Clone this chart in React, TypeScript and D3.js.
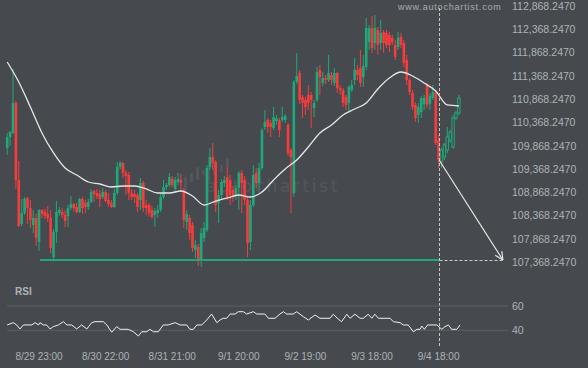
import React from "react";
import * as d3 from "d3";

const W = 588;
const H = 368;
const BG = "#464a4f";
const GREEN = "#1fa97a";
const RED = "#f83c3c";
const TEXT = "#aeb2b6";
const FONT = "'Liberation Sans', Arial, sans-serif";

// hourly candles (bar index 0..156)
const candleOpen = [109772,110008,110094,110738,109085,108141,108377,108699,108484,108120,108270,107755,108441,108398,108355,108270,107433,107969,108377,108398,108334,108313,108484,108570,108506,108398,108678,108592,108506,108613,108849,108806,108785,108720,108828,108656,108592,108506,108806,109364,109450,109235,109192,108806,108785,108763,108656,109021,108549,108549,108441,108334,108377,108441,108720,108935,108978,109107,108892,109042,109085,108871,108184,108270,108120,107583,107647,107368,107841,108012,109364,109579,109472,108592,108763,109021,109150,109085,108871,108763,108914,109235,109085,108656,107755,108549,109235,109021,109343,110223,110373,110308,110201,110351,110373,110373,110373,110266,109729,108806,111188,111381,110866,110802,110909,110909,110630,110802,111446,111167,111274,111231,111339,111167,111381,111059,111017,110866,110738,111017,111231,111446,111489,111295,111510,112047,112347,112025,112304,112025,112261,112240,112197,112133,111982,111939,112154,112025,111660,111231,110952,110695,110480,110544,110716,111124,110716,110845,110974,109944,109472,109579,109729,109944,109793,110416,110523];
const candleHigh = [110094,110137,111467,110781,109493,108678,108720,108720,108656,108441,108355,108463,108463,108463,108527,108441,108034,108635,108506,108484,108441,108549,108742,108592,108592,108699,108720,108656,108678,108892,108871,108892,108871,108914,108871,108806,108656,108892,109472,109493,109472,109300,109257,108892,108871,108806,109128,109064,108656,108592,108527,108484,108549,108806,109085,109021,109235,109171,109150,109235,109214,108914,108441,108334,108184,107798,107712,108055,108184,109407,109772,109879,109514,108871,109107,109171,109364,109192,108957,108978,109279,109300,109171,108720,108656,109407,109343,109450,110201,110587,110416,110373,110652,110480,110416,110652,110502,110308,109772,111231,111811,111446,110909,110866,111124,110974,110802,111510,111553,111403,111339,111768,111403,111489,111403,111124,111059,110909,111124,111231,111703,111553,111875,111768,112562,112412,112605,112626,112369,112519,112304,112304,112261,112197,112090,112261,112240,112090,111768,111274,111017,110759,110738,110888,110909,111167,110952,111124,111017,110051,109772,109879,110223,110158,110480,110566,110909];
const candleLow = [109622,109815,110072,108892,108077,108098,108334,108141,108055,107948,107669,107562,108270,108248,108184,107519,107390,107733,108313,108270,108077,108077,108441,108398,108355,108377,108355,108377,108441,108592,108613,108678,108506,108678,108613,108506,108484,108484,108763,109321,109128,108763,108656,108656,108592,108398,108441,108398,108334,108291,108248,108077,108270,108398,108678,108871,108935,108935,108806,108978,108828,108055,108012,107798,107540,107411,107240,107219,107755,107969,109300,109300,108398,108162,108656,108935,108656,108549,108613,108656,108441,108377,108549,107433,107583,108506,108914,108871,109300,110158,110094,110008,110158,110266,110008,110330,110308,109600,108377,108720,111145,110716,110416,110480,110587,110201,110437,110759,110909,111102,111145,111188,111124,111102,110952,110909,110652,110587,110544,110974,111124,111231,111081,111081,111446,111875,111811,111875,111768,111875,111811,111918,111832,111982,111660,111875,111918,111510,111124,110909,110587,110330,110308,110416,110587,110630,110587,110802,109836,109343,109343,109514,109665,109879,109750,110373,110480];
const candleClose = [110008,110115,110738,109085,108098,108377,108678,108484,108227,108270,107841,108441,108355,108313,108270,107626,107969,108398,108441,108334,108205,108484,108570,108484,108398,108678,108484,108506,108613,108828,108785,108742,108678,108828,108635,108570,108506,108806,109364,109450,109235,109171,108806,108720,108720,108506,109021,108484,108484,108377,108291,108420,108441,108720,108935,108978,109150,108978,109085,109107,109021,108227,108355,107948,107626,107690,107368,107948,108055,109343,109579,109450,108549,108763,109042,109085,108720,108763,108720,108914,109235,109021,108656,107733,108549,109192,109021,109343,110158,110330,110223,110223,110437,110416,110158,110437,110459,109665,109579,111188,111317,110802,110738,110652,110738,110802,110738,111403,111295,111274,111231,111381,111231,111381,111059,111017,110738,110695,111081,111124,111446,111339,111167,111532,112347,112347,111918,112347,111982,112240,112025,111982,111982,112047,111725,112133,111982,111596,111231,110974,110652,110416,110652,110845,110845,110695,110888,110974,109879,109514,109729,109836,110008,110115,110416,110523,110845];

// moving average, read every 4 bars
const maBar = [0,4,8,12,16,20,24,28,32,36,40,44,48,52,56,60,64,68,72,76,80,84,88,92,96,100,104,108,112,116,120,124,128,132,136,140,144,148,152,156];
const maValue = [111617,111188,110652,110094,109665,109343,109192,109042,108999,108935,108956,108956,108892,108806,108806,108849,108742,108549,108634,108699,108763,108720,108828,109085,109321,109514,109793,110094,110265,110480,110609,110738,111038,111274,111403,111317,111167,110995,110695,110673];

// RSI line vertices
const rsiBar = [0,2.1,3.3,4.4,5.6,8.5,9.6,10.8,11.3,12.5,13.6,14.8,15.9,17.7,19.4,20.6,22.3,24,25.7,27.5,29.2,30.3,33.2,34.4,36.1,37.8,39,41.8,43.6,45.3,46.5,48.2,49.3,50.5,52.2,53.9,55.6,58,59.7,62,63.1,64.3,65.5,67.2,68.9,70.6,72.4,73.5,74.6,75.8,77,78.7,79.8,81.6,82.7,85,86.2,89,90.2,92.5,94.2,95.4,96.5,98.8,100,102.3,104,106.3,108,111.5,112.6,114.4,115.5,117.3,118.4,120.1,121.9,123,124.7,125.9,127,128.2,132.2,133.4,135.7,136.8,138.5,140.3,141.5,142.6,143.2,144.1,145.2,148.4,150.1,151.2,152.4,153.5,155.3,156.4];
const rsiValue = [44.4,46.3,44.4,41.1,44.4,44.4,46.3,44.4,46.3,44.4,44.4,41.1,43,44.4,47.1,44.4,44.4,41.1,44.4,41.1,46.3,47.1,47.1,44.4,38.4,43,40.8,40.8,38.8,35.3,38.8,38.8,40.8,38.8,38.8,44.4,44.4,46.3,44.4,44.4,40.8,40.8,44.4,44.4,48.5,53.4,46.3,48.5,49.9,49.9,53.4,53.4,55.3,55.3,53.4,55.3,53.4,53.4,49.9,49.9,53.4,55.3,53.4,53.4,55.3,51.2,48.5,52.6,49.9,49.9,53.2,49.1,47.1,53.2,49.9,53.2,49.9,49.9,53.2,49.9,53.2,49.9,49.9,47.1,46.3,44.4,44.4,38.8,40.8,40.8,43.5,40.8,44.4,44.4,40.8,43,44.4,40.8,40.8,44.4];

const priceTicks = [107368.247,107868.247,108368.247,108868.247,109368.247,109868.247,110368.247,110868.247,111368.247,111868.247,112368.247,112868.247];
const rsiTicks = [40, 60];
const timeLabels = ["8/29 23:00","8/30 22:00","8/31 21:00","9/1 20:00","9/2 19:00","9/3 18:00","9/4 18:00"];
const timeLabelBars = [11,34,57,80,103,126,149];

const supportPrice = 107368.247;
const supportStartBar = 11.3;
const currentBar = 149;
const forecastStartPrice = 109514;
const forecastEndBar = 171.2;

export default function App() {
  const x = d3.scaleLinear().domain([0, 149]).range([7.2, 438.6]);
  const y = d3.scaleLinear().domain([107368.247, 112868.247]).range([260, 3.7]);
  const r = d3.scaleLinear().domain([40, 60]).range([330.3, 306]);
  const fmt = d3.format(",.4f");

  const maLine = d3
    .line<number>()
    .x((_, i) => x(maBar[i]))
    .y((d) => y(d))
    .curve(d3.curveMonotoneX)(maValue) as string;

  const rsiLine = d3
    .line<number>()
    .x((_, i) => x(rsiBar[i]))
    .y((d) => r(d))(rsiValue) as string;

  const curX = Math.round(x(currentBar)) + 0.5;
  const sx = x(currentBar) + 0.5;
  const sy = y(forecastStartPrice);
  const ex = x(forecastEndBar);
  const ey = y(supportPrice);
  const ang = Math.atan2(ey - sy, ex - sx);
  const head = 9;
  const spread = 0.45;

  return (
    <svg
      width={W}
      height={H}
      style={{ position: "absolute", left: 0, top: 0, display: "block" }}
      fontFamily={FONT}
    >
      <rect width={W} height={H} fill={BG} />

      {/* faint watermark */}
      <g fill="#53575c">
        {[
          [184, 177, 13],
          [190, 173, 9],
          [196, 167, 13],
          [202, 170, 5],
          [207, 167, 15],
          [213, 163, 12],
          [220, 165, 7],
          [226, 158, 9],
        ].map(([bx, by, bh], i) => (
          <rect key={i} x={bx} y={by} width={3} height={bh} rx={1} />
        ))}
        <text x={206} y={192} fontSize={17} letterSpacing={2.6} fontFamily="'DejaVu Sans', sans-serif">
          autochartist
        </text>
      </g>

      <text x={398} y={10} fontSize={9} letterSpacing={0.8} fill="#a8acb0">
        www.autochartist.com
      </text>

      {/* candles */}
      {candleOpen.map((o, i) => {
        const c = candleClose[i];
        const up = c >= o;
        const cx = x(i);
        const top = y(Math.max(o, c));
        const bot = y(Math.min(o, c));
        const hollow = i > currentBar;
        const col = up ? GREEN : RED;
        return (
          <g key={i}>
            <line x1={cx} x2={cx} y1={y(candleHigh[i])} y2={y(candleLow[i])} stroke={col} strokeWidth={1} />
            {hollow ? (
              <rect x={cx - 1.2} y={top} width={2.4} height={Math.max(1, bot - top)} fill={BG} stroke={col} strokeWidth={1} />
            ) : (
              <rect x={cx - 1.3} y={top} width={2.6} height={Math.max(1, bot - top)} fill={col} />
            )}
          </g>
        );
      })}

      {/* moving average */}
      <path d={maLine} fill="none" stroke="#e6e6e6" strokeWidth={1.3} />

      {/* support level */}
      <line x1={x(supportStartBar)} x2={curX} y1={y(supportPrice)} y2={y(supportPrice)} stroke={GREEN} strokeWidth={2} />
      <line x1={curX} x2={ex} y1={y(supportPrice) + 0.5} y2={y(supportPrice) + 0.5} stroke="#c8c8c8" strokeWidth={1} strokeDasharray="3,2" />

      {/* current time marker */}
      <line x1={curX} x2={curX} y1={8} y2={348} stroke="#c8c8c8" strokeWidth={1} strokeDasharray="3,2" />

      {/* forecast arrow */}
      <g stroke="#e6e6e6" strokeWidth={1.2} fill="none">
        <line x1={sx} y1={sy} x2={ex} y2={ey} />
        <line x1={ex} y1={ey} x2={ex - head * Math.cos(ang - spread)} y2={ey - head * Math.sin(ang - spread)} />
        <line x1={ex} y1={ey} x2={ex - head * Math.cos(ang + spread)} y2={ey - head * Math.sin(ang + spread)} />
      </g>

      {/* price axis labels */}
      {priceTicks.map((v) => (
        <text key={v} x={512} y={y(v) + 6} fontSize={10.5} fill={TEXT}>
          {fmt(v)}
        </text>
      ))}

      {/* RSI panel */}
      <text x={15} y={295} fontSize={10} fontWeight="bold" fill={TEXT}>
        RSI
      </text>
      {rsiTicks.map((t) => (
        <g key={t}>
          <line x1={7} x2={508} y1={r(t)} y2={r(t)} stroke="#5c6065" strokeWidth={1} />
          <text x={512} y={r(t) + 4} fontSize={10.5} fill={TEXT}>
            {t}
          </text>
        </g>
      ))}
      <path d={rsiLine} fill="none" stroke="#f0f0f0" strokeWidth={1} />

      {/* time labels */}
      {timeLabels.map((t, i) => (
        <text key={t} x={x(timeLabelBars[i])} y={360} fontSize={10} textAnchor="middle" fill={TEXT}>
          {t}
        </text>
      ))}
    </svg>
  );
}
